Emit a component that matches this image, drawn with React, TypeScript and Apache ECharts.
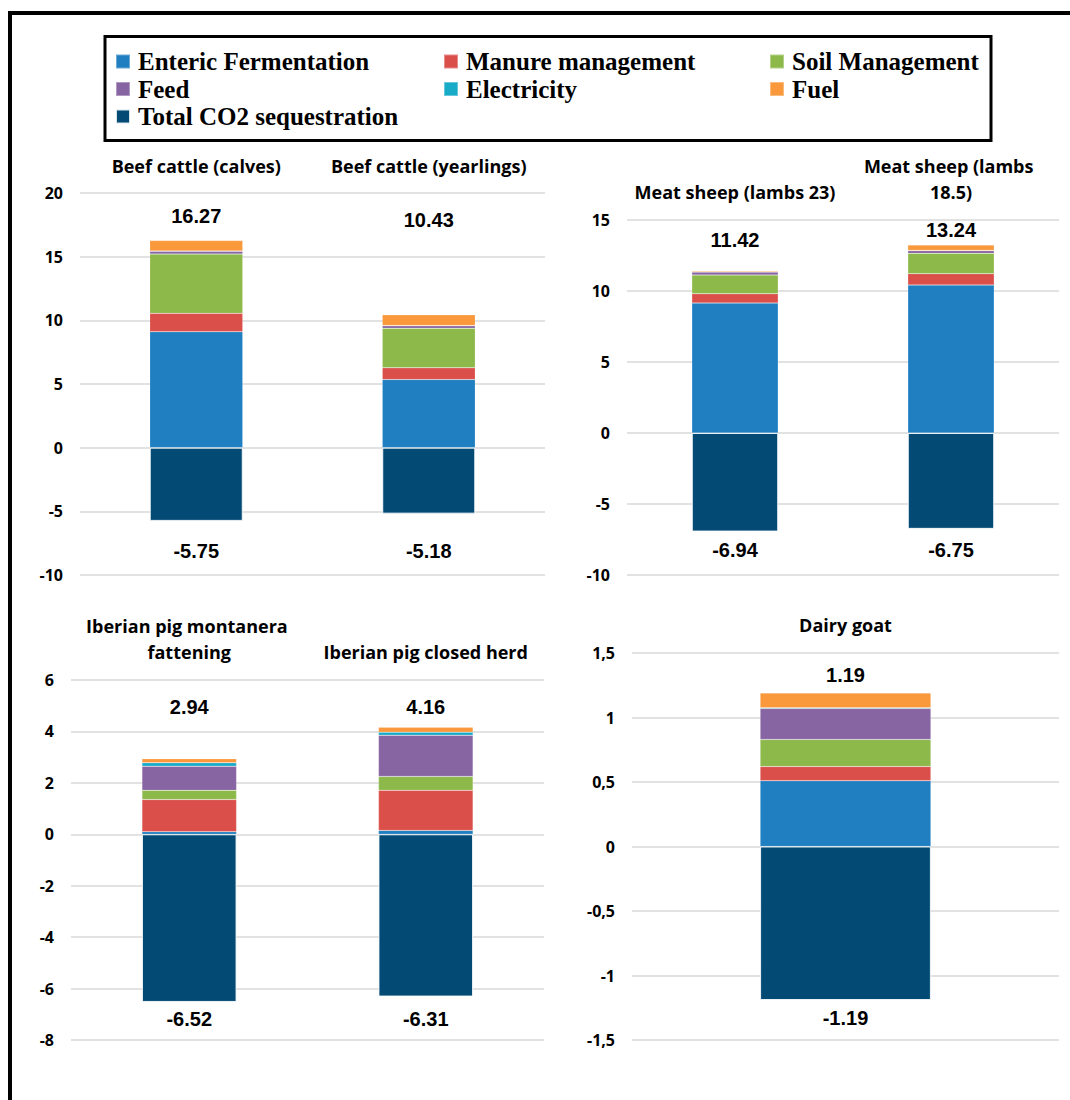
import React, { useEffect, useRef } from "react";
import * as echarts from "echarts";

// ---- data ----
const seriesNames = [
  "Enteric Fermentation",
  "Manure management",
  "Soil Management",
  "Feed",
  "Electricity",
  "Fuel",
  "Total CO2 sequestration",
];
const colors = ["#1f7fc0", "#da4f4a", "#8db94b", "#8764a2", "#17abc8", "#fa993c", "#034a75"];

// Beef cattle
const beefCategories = ["Beef cattle (calves)", "Beef cattle (yearlings)"];
const beefEnteric = [9.11, 5.35];
const beefManure = [1.44, 0.92];
const beefSoil = [4.65, 3.1];
const beefFeed = [0.23, 0.2];
const beefElectricity = [0.02, 0.02];
const beefFuel = [0.82, 0.84];
const beefSequestration = [-5.75, -5.18];
const beefTotals = [16.27, 10.43];

// Meat sheep
const sheepCategories = ["Meat sheep (lambs 23)", "Meat sheep (lambs 18.5)"];
const sheepEnteric = [9.15, 10.42];
const sheepManure = [0.66, 0.8];
const sheepSoil = [1.32, 1.43];
const sheepFeed = [0.2, 0.19];
const sheepElectricity = [0.02, 0.02];
const sheepFuel = [0.07, 0.38];
const sheepSequestration = [-6.94, -6.75];
const sheepTotals = [11.42, 13.24];

// Iberian pig
const pigCategories = ["Iberian pig montanera fattening", "Iberian pig closed herd"];
const pigEnteric = [0.1, 0.15];
const pigManure = [1.25, 1.56];
const pigSoil = [0.36, 0.54];
const pigFeed = [0.94, 1.6];
const pigElectricity = [0.13, 0.12];
const pigFuel = [0.16, 0.19];
const pigSequestration = [-6.52, -6.31];
const pigTotals = [2.94, 4.16];

// Dairy goat
const goatCategories = ["Dairy goat"];
const goatEnteric = [0.51];
const goatManure = [0.11];
const goatSoil = [0.21];
const goatFeed = [0.24];
const goatElectricity = [0.005];
const goatFuel = [0.115];
const goatSequestration = [-1.19];
const goatTotals = [1.19];

// ---- layout ----
const panels = [
  {
    cats: beefCategories,
    values: [beefEnteric, beefManure, beefSoil, beefFeed, beefElectricity, beefFuel, beefSequestration],
    totals: beefTotals,
    seq: beefSequestration,
    grid: { left: 80, top: 193, width: 465, height: 382 },
    y: { min: -10, max: 20, interval: 5 },
    topAt: [18.2, 17.9],
    bottomAt: -8.1,
    comma: false,
    titleMargin: 14,
  },
  {
    cats: sheepCategories,
    values: [sheepEnteric, sheepManure, sheepSoil, sheepFeed, sheepElectricity, sheepFuel, sheepSequestration],
    totals: sheepTotals,
    seq: sheepSequestration,
    grid: { left: 627, top: 220, width: 432, height: 355 },
    y: { min: -10, max: 15, interval: 5 },
    topAt: [13.6, 14.3],
    bottomAt: -8.24,
    comma: false,
    titleMargin: 15,
  },
  {
    cats: pigCategories,
    values: [pigEnteric, pigManure, pigSoil, pigFeed, pigElectricity, pigFuel, pigSequestration],
    totals: pigTotals,
    seq: pigSequestration,
    grid: { left: 71, top: 680, width: 473, height: 360 },
    y: { min: -8, max: 6, interval: 2 },
    topAt: [4.96, 4.96],
    bottomAt: -7.19,
    comma: false,
    titleMargin: 15,
  },
  {
    cats: goatCategories,
    values: [goatEnteric, goatManure, goatSoil, goatFeed, goatElectricity, goatFuel, goatSequestration],
    totals: goatTotals,
    seq: goatSequestration,
    grid: { left: 632, top: 653, width: 427, height: 387 },
    y: { min: -1.5, max: 1.5, interval: 0.5 },
    topAt: [1.333],
    bottomAt: -1.333,
    comma: true,
    titleMargin: 15,
  },
];

const legendPos = [
  { x: 115, y: 49 },
  { x: 443, y: 49 },
  { x: 769, y: 49 },
  { x: 115, y: 76.5 },
  { x: 443, y: 76.5 },
  { x: 769, y: 76.5 },
  { x: 115, y: 104 },
];

function buildOption() {
  const grids: any[] = [];
  const xAxes: any[] = [];
  const yAxes: any[] = [];
  const series: any[] = [];

  panels.forEach((p, i) => {
    grids.push({ ...p.grid, containLabel: false });
    xAxes.push({
      type: "category",
      gridIndex: i,
      data: p.cats,
      position: "top",
      axisLine: { show: false },
      axisTick: { show: false },
      axisLabel: {
        interval: 0,
        margin: p.titleMargin,
        fontFamily: "Open Sans",
        fontWeight: "bold",
        fontSize: 18,
        lineHeight: 26,
        color: "#000",
        width: 214,
        overflow: "break",
      },
    });
    yAxes.push({
      type: "value",
      gridIndex: i,
      min: p.y.min,
      max: p.y.max,
      interval: p.y.interval,
      axisLine: { show: false },
      axisTick: { show: false },
      splitLine: { lineStyle: { color: "#d9d9d9", width: 1.6 } },
      axisLabel: {
        margin: 17,
        fontFamily: "Open Sans",
        fontWeight: "bold",
        fontSize: 16,
        color: "#000",
        formatter: (v: number) => (p.comma ? String(v).replace(".", ",") : String(v)),
      },
    });
    p.values.forEach((vals, k) => {
      series.push({
        type: "bar",
        name: seriesNames[k],
        xAxisIndex: i,
        yAxisIndex: i,
        stack: "s" + i,
        barWidth: "40%",
        data: vals,
        itemStyle: {
          color: colors[k],
          borderColor: k === 6 ? "rgba(255,255,255,0.85)" : "rgba(255,255,255,0.35)",
          borderWidth: k === 6 ? 1 : 0.5,
        },
        emphasis: { disabled: true },
      });
    });
    const labelData: any[] = [];
    p.totals.forEach((t, j) => {
      labelData.push({ value: [j, p.topAt[j]], label: { formatter: t.toFixed(2) } });
    });
    p.seq.forEach((s, j) => {
      labelData.push({ value: [j, p.bottomAt], label: { formatter: s.toFixed(2) } });
    });
    series.push({
      type: "scatter",
      name: "labels" + i,
      xAxisIndex: i,
      yAxisIndex: i,
      symbolSize: 1,
      silent: true,
      itemStyle: { color: "#fff", opacity: 0 },
      data: labelData,
      label: {
        show: true,
        position: "inside",
        fontFamily: "Liberation Sans",
        fontWeight: "bold",
        fontSize: 20,
        color: "#000",
        opacity: 1,
        textBorderWidth: 0,
      },
      z: 10,
    });
  });

  const legends = seriesNames.map((n, k) => ({
    data: [n],
    left: legendPos[k].x,
    top: legendPos[k].y,
    icon: "rect",
    itemWidth: 14,
    itemHeight: 14,
    padding: 0,
    textStyle: {
      fontFamily: "Liberation Serif",
      fontWeight: "bold",
      fontSize: 25,
      color: "#000",
      padding: [0, 0, 0, 3],
    },
  }));

  return {
    animation: false,
    backgroundColor: "#fff",
    grid: grids,
    xAxis: xAxes,
    yAxis: yAxes,
    legend: legends,
    series,
    graphic: [
      {
        type: "rect",
        shape: { x: 10, y: 13, width: 1200, height: 1200 },
        style: { fill: "none", stroke: "#000", lineWidth: 4 },
        silent: true,
      },
      {
        type: "rect",
        shape: { x: 105, y: 36.5, width: 886, height: 104 },
        style: { fill: "none", stroke: "#000", lineWidth: 3 },
        silent: true,
      },
    ],
  };
}

export default function App() {
  const ref = useRef<HTMLDivElement>(null);
  useEffect(() => {
    if (!ref.current) return;
    const chart = echarts.init(ref.current, undefined, { renderer: "svg" });
    chart.setOption(buildOption() as any);
    return () => chart.dispose();
  }, []);
  return (
    <div
      ref={ref}
      style={{ position: "absolute", left: 0, top: 0, width: 1070, height: 1100, background: "#fff" }}
    />
  );
}
